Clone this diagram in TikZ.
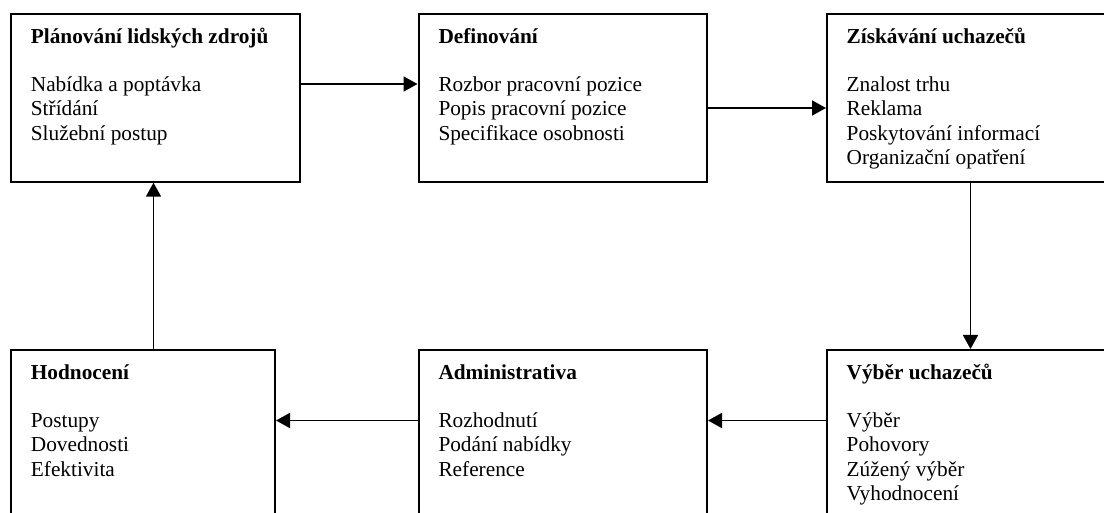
\documentclass[tikz,border=0pt]{standalone}
\usepackage{fontspec}
\setmainfont{Liberation Serif}
\usetikzlibrary{arrows.meta}
\tikzset{
  stage/.style={draw=black, line width=2pt, rectangle, inner sep=0pt, anchor=north west},
  label/.style={anchor=base west, inner sep=0pt, font=\fontsize{21.3}{24.2}\selectfont},
  flow/.style={line width=1.7pt, -{Triangle[length=14pt,width=15pt]}}
}
\newcommand\stagetext[2]{\begin{tabular}[t]{@{}l@{}}\textbf{#1}\\[0pt] \\#2\end{tabular}}
\begin{document}
\begin{tikzpicture}[x=1pt,y=-1pt]
\useasboundingbox (0,0) rectangle (1104,513);
% boxes
\node[stage, minimum width=289pt, minimum height=168pt] (b1) at (9.5,12.7) {};
\node[stage, minimum width=288.5pt, minimum height=168pt] (b2) at (417.5,12.7) {};
\node[stage, minimum width=300pt, minimum height=168pt] (b3) at (826,12.7) {};
\node[stage, minimum width=264.5pt, minimum height=180pt] (b4) at (9.5,349) {};
\node[stage, minimum width=288.5pt, minimum height=180pt] (b5) at (417.5,349) {};
\node[stage, minimum width=300pt, minimum height=180pt] (b6) at (826,349) {};
% texts
\node[label] (t1) at (30.7,43.3) {\stagetext{Plánování lidských zdrojů}{Nabídka a poptávka\\Střídání\\Služební postup}};
\node[label] (t2) at (438.3,43.3) {\stagetext{Definování}{Rozbor pracovní pozice\\Popis pracovní pozice\\Specifikace osobnosti}};
\node[label] (t3) at (846.5,43.3) {\stagetext{Získávání uchazečů}{Znalost trhu\\Reklama\\Poskytování informací\\Organizační opatření}};
\node[label] (t4) at (30.7,379.3) {\stagetext{Hodnocení}{Postupy\\Dovednosti\\Efektivita}};
\node[label] (t5) at (438.3,379.3) {\stagetext{Administrativa}{Rozhodnutí\\Podání nabídky\\Reference}};
\node[label] (t6) at (846.5,379.3) {\stagetext{Výběr uchazečů}{Výběr\\Pohovory\\Zúžený výběr\\Vyhodnocení}};
% connectors
\draw[flow] (b1.east |- 0,84) -- (b2.west |- 0,84);
\draw[flow] (b2.east |- 0,108) -- (b3.west |- 0,108);
\draw[flow] (b3.south -| 970.5,0) -- (b6.north -| 970.5,0);
\draw[flow] (b6.west |- 0,420.5) -- (b5.east |- 0,420.5);
\draw[flow] (b5.west |- 0,420.5) -- (b4.east |- 0,420.5);
\draw[flow] (b4.north -| 153.5,0) -- (b1.south -| 153.5,0);
\end{tikzpicture}
\end{document}
